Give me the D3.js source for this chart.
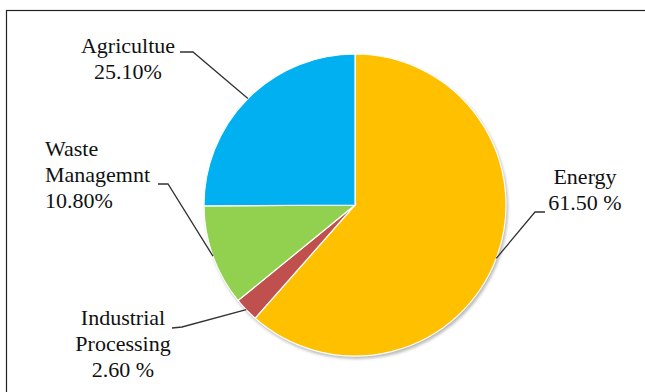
<!DOCTYPE html>
<html>
<head>
<meta charset="utf-8">
<script src="https://d3js.org/d3.v7.min.js"></script>
<style>
  body { margin: 0; background: #fff; }
  svg text { font-family: "Liberation Serif", Tinos, serif !important; }
</style>
</head>
<body>
<div id="screen"></div>
<script>
// data
var categories = ["Energy", "Industrial Processing", "Waste Managemnt", "Agricultue"];
var shares = [61.5, 2.6, 10.8, 25.1];
var labelLines = [
    ["Energy", "61.50 %"],
    ["Industrial", "Processing", "2.60 %"],
    ["Waste", "Managemnt", "10.80%"],
    ["Agricultue", "25.10%"]
];
var colors = ["#ffc000", "#c0504d", "#92d050", "#00b0f0"];

var width = 645;
var height = 392;
var centre = {x: 355, y: 205};
var radius = 151;

// where each label sits and where its leader line bends (layout only)
var labelLayout = [
    {x: 585, y: 184, anchor: "middle", elbow: [535, 212], end: [545, 212]},
    {x: 123, y: 325, anchor: "middle", elbow: [182, 327], end: [172, 328]},
    {x: 45, y: 156, anchor: "start", elbow: [168, 184], end: [158, 184]},
    {x: 128, y: 53, anchor: "middle", elbow: [193, 52], end: [180, 52]}
];

var svg = d3.select("#screen").append("svg")
    .attr("width", width)
    .attr("height", height)
    .attr("font-family", "Liberation Serif, serif");

// frame
svg.append("rect")
    .attr("x", 6.5).attr("y", 10.5)
    .attr("width", 800).attr("height", 600)
    .attr("fill", "none")
    .attr("stroke", "#222")
    .attr("stroke-width", 1.2);

var pie = d3.pie().sort(null).value(function(d) { return d; });
var arcs = pie(shares);
var arc = d3.arc().innerRadius(0).outerRadius(radius);

var g = svg.append("g")
    .attr("transform", "translate(" + centre.x + "," + centre.y + ")");

// soft grey shadow under the pie
g.append("circle")
    .attr("cx", 1.5).attr("cy", 2.5).attr("r", radius + 0.5)
    .attr("fill", "#bbb")
    .style("filter", "blur(1.5px)");

g.append("g")
  .selectAll("path")
    .data(arcs)
    .enter().append("path")
    .attr("d", arc)
    .attr("fill", function(d, i) { return colors[i]; })
    .attr("stroke", "#fff")
    .attr("stroke-width", 1.2);

// leader lines from the middle of each slice edge
svg.selectAll("polyline.leader")
    .data(arcs)
    .enter().append("polyline")
    .attr("class", "leader")
    .attr("points", function(d, i) {
        var a = (d.startAngle + d.endAngle) / 2;
        var p = [centre.x + radius * Math.sin(a), centre.y - radius * Math.cos(a)];
        var l = labelLayout[i];
        return [p, l.elbow, l.end].map(function(q) { return q.join(","); }).join(" ");
    })
    .attr("fill", "none")
    .attr("stroke", "#333")
    .attr("stroke-width", 1.3);

// labels, one text per line
var lineHeight = 26;
labelLines.forEach(function(lines, i) {
    var l = labelLayout[i];
    lines.forEach(function(s, j) {
        svg.append("text")
            .attr("x", l.x)
            .attr("y", l.y + j * lineHeight)
            .attr("text-anchor", l.anchor)
            .attr("font-family", "Liberation Serif")
            .attr("font-size", 22)
            .attr("fill", "#111")
            .text(s);
    });
});
</script>
</body>
</html>
